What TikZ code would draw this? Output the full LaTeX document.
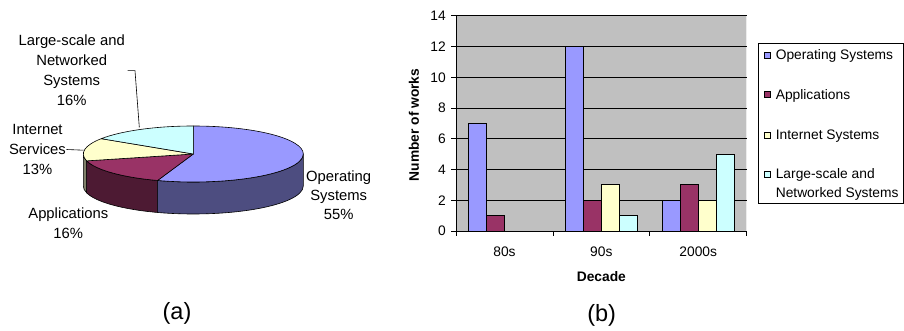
\documentclass[tikz,border=0pt]{standalone}
\usepackage{fontspec}
\setmainfont{Liberation Sans}
\definecolor{osTop}{HTML}{9999FF}
\definecolor{osSide}{HTML}{4D4D80}
\definecolor{appTop}{HTML}{993366}
\definecolor{appSide}{HTML}{4D1A33}
\definecolor{netTop}{HTML}{FFFFCC}
\definecolor{netSide}{HTML}{80806A}
\definecolor{lsTop}{HTML}{CCFFFF}
\definecolor{plotGray}{HTML}{C0C0C0}
\begin{document}
\begin{tikzpicture}[x=1pt,y=-1pt,
  slice/.style={draw=black,line width=0.6pt,line join=round},
  bar/.style={draw=black,line width=0.8pt},
  grid/.style={draw=black,line width=0.7pt},
  pielabel/.style={inner sep=0pt,anchor=base,font=\fontsize{14.8}{20}\selectfont},
  axlabel/.style={inner sep=0pt,font=\fontsize{13.8}{16}\selectfont},
  axtitle/.style={inner sep=0pt,font=\fontsize{13.8}{16}\selectfont\bfseries},
  legtext/.style={inner sep=0pt,anchor=base west,font=\fontsize{13.8}{18.3}\selectfont},
  legkey/.style={draw=black,line width=0.5pt},
  caption/.style={inner sep=0pt,font=\fontsize{23.5}{26}\selectfont},
  ell/.style={x radius=110,y radius=28}]
\useasboundingbox (0,0) rectangle (904,331);

% ---------------- 3-D pie chart ----------------
\begin{scope}[shift={(193.3,154)},yscale=-1]
  % outer walls (front half only), depth 32
  \path[slice,fill=netSide] (180:110 and 28)
    arc[ell,start angle=180,end angle=194.21]
    -- ++(0,-32)
    arc[ell,start angle=194.21,end angle=180] -- cycle;
  \path[slice,fill=appSide] (194.21:110 and 28)
    arc[ell,start angle=194.21,end angle=251.05]
    -- ++(0,-32)
    arc[ell,start angle=251.05,end angle=194.21] -- cycle;
  \path[slice,fill=osSide] (251.05:110 and 28)
    arc[ell,start angle=251.05,end angle=360]
    -- ++(0,-32)
    arc[ell,start angle=360,end angle=251.05] -- cycle;
  % top faces
  \path[slice,fill=osTop] (0,0) -- (90:110 and 28)
    arc[ell,start angle=90,end angle=-108.95] -- cycle;
  \path[slice,fill=appTop] (0,0) -- (251.05:110 and 28)
    arc[ell,start angle=251.05,end angle=194.21] -- cycle;
  \path[slice,fill=netTop] (0,0) -- (194.21:110 and 28)
    arc[ell,start angle=194.21,end angle=146.84] -- cycle;
  \path[slice,fill=lsTop] (0,0) -- (146.84:110 and 28)
    arc[ell,start angle=146.84,end angle=90] -- cycle;
\end{scope}

% pie labels
\node[pielabel] (lsLbl) at (71.7,45.3)
  {\begin{tabular}[t]{@{}c@{}}Large-scale and\\Networked\\Systems\\16\%\end{tabular}};
\node[pielabel] (netLbl) at (37.5,134.6)
  {\begin{tabular}[t]{@{}c@{}}Internet\\Services\\13\%\end{tabular}};
\node[pielabel] (appLbl) at (68.3,218.6)
  {\begin{tabular}[t]{@{}c@{}}Applications\\16\%\end{tabular}};
\node[pielabel,font=\fontsize{14.8}{19}\selectfont] (osLbl) at (338.7,181.3)
  {\begin{tabular}[t]{@{}c@{}}Operating\\Systems\\55\%\end{tabular}};

% leader lines
\coordinate (lsA) at (127.7,70.7);
\coordinate (lsB) at (135,70.7);
\coordinate (lsC) at (139.3,127.3);
\draw[line width=0.6pt] (lsA) -- (lsB) -- (lsC);
\coordinate (netA) at (66.5,149.5);
\coordinate (netB) at (83.6,150.2);
\draw[line width=0.6pt] (netA) -- (netB);

\node[caption] (capA) at (177,313) {(a)};

% ---------------- bar chart ----------------
\fill[plotGray] (456,15.7) rectangle (746.7,231);
\draw[white!85!gray,line width=0.6pt] (746.7,15.7) -- (746.7,231);
\foreach \v in {2,4,...,14}
  \draw[grid] (456,{231-\v*15.38}) -- (746.7,{231-\v*15.38});

% bars: category index / OS / Applications / Internet / Large-scale
\foreach \c/\a/\b/\n/\l in {0/7/1/0/0, 1/12/2/3/1, 2/2/3/2/5}{
  \pgfmathsetmacro{\xz}{468.4+\c*96.9}
  \draw[bar,fill=osTop]  (\xz,231) rectangle ({\xz+18},{231-\a*15.38});
  \draw[bar,fill=appTop] ({\xz+18},231) rectangle ({\xz+36},{231-\b*15.38});
  \ifnum\n>0
    \draw[bar,fill=netTop] ({\xz+36},231) rectangle ({\xz+54},{231-\n*15.38});
  \fi
  \ifnum\l>0
    \draw[bar,fill=lsTop] ({\xz+54},231) rectangle ({\xz+72},{231-\l*15.38});
  \fi
}

% axes and ticks
\draw[grid] (456,15.7) -- (456,231) -- (746.7,231);
\foreach \v in {0,2,...,14}{
  \draw[grid] (451,{231-\v*15.38}) -- (456,{231-\v*15.38});
  \node[axlabel,anchor=base east] (yt\v) at (446,{231-\v*15.38+4.94}) {\v};
}
\foreach \xt in {456,552.9,649.8,746.7}
  \draw[grid] (\xt,231) -- (\xt,235.5);
\node[axlabel,anchor=base] (c80) at (504.45,256.6) {80s};
\node[axlabel,anchor=base] (c90) at (601.35,256.6) {90s};
\node[axlabel,anchor=base] (c00) at (698.25,256.6) {2000s};
\node[axtitle,anchor=base] (xTitle) at (601.35,281.9) {Decade};
\node[axtitle,rotate=90,anchor=center] (yTitle) at (414,125) {Number of works};

% legend
\draw[line width=0.7pt] (758.3,43.3) rectangle (903.5,203.3);
\draw[legkey,fill=osTop]  (764,51.8) rectangle (770.5,58.3);
\node[legtext] (legOS) at (775.6,59.9) {Operating Systems};
\draw[legkey,fill=appTop] (764,91.1) rectangle (770.5,97.6);
\node[legtext] (legApp) at (775.6,99.2) {Applications};
\draw[legkey,fill=netTop] (764,131.8) rectangle (770.5,138.3);
\node[legtext] (legNet) at (775.6,139.9) {Internet Systems};
\draw[legkey,fill=lsTop]  (764,170.8) rectangle (770.5,177.3);
\node[legtext] (legLS) at (775.6,178.9)
  {\begin{tabular}[t]{@{}l@{}}Large-scale and\\Networked Systems\end{tabular}};

\node[caption] (capB) at (601.7,315) {(b)};
\end{tikzpicture}
\end{document}
